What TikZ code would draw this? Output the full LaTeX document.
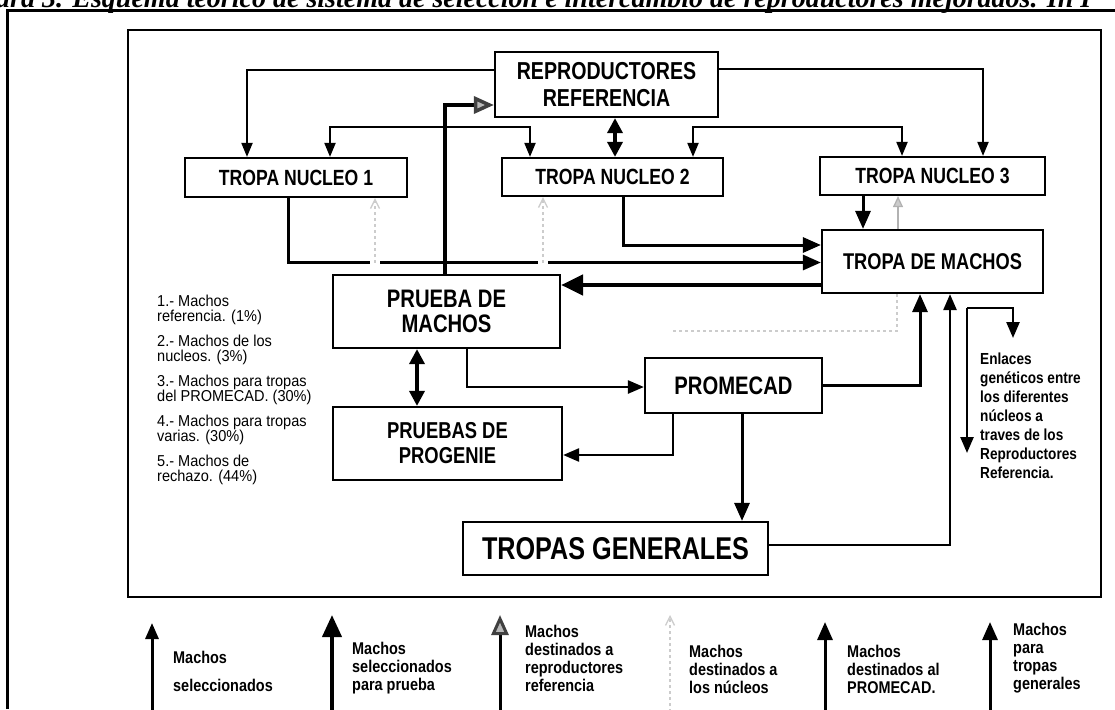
\documentclass[tikz,border=0pt]{standalone}
\usepackage{fontspec}
\setmainfont{Liberation Sans}
\newfontfamily\cf[FakeStretch=0.8]{Liberation Sans}
\newfontfamily\lgf[FakeStretch=0.85]{Liberation Sans}
\newfontfamily\lf[FakeStretch=0.92]{Liberation Sans}
\newfontfamily\tf{Liberation Serif}
\usetikzlibrary{arrows.meta,calc}
\tikzset{
  box/.style={draw, line width=2.2pt, inner sep=0pt, align=center},
  thinar/.style={line width=2pt, -{Triangle[length=14pt,width=11pt]}},
  thinbi/.style={line width=2pt, {Triangle[length=14pt,width=11pt]}-{Triangle[length=14pt,width=11pt]}},
  medar/.style={line width=3pt, -{Triangle[length=18pt,width=15pt]}},
  medthin/.style={line width=2.5pt, -{Triangle[length=16pt,width=13pt]}},
  bigar/.style={line width=4.5pt, -{Triangle[length=22pt,width=20pt]}},
  dblar/.style={line width=3.5pt, {Triangle[length=15pt,width=15pt]}-{Triangle[length=15pt,width=15pt]}},
  grayar/.style={line width=3.5pt, -{Triangle[length=20pt,width=17pt,fill=gray!55,color=black!75]}},
  faintar/.style={draw=gray!40, dashed, line width=1.3pt, -{Straight Barb[length=9pt,width=9pt]}},
  faintline/.style={draw=gray!40, dashed, line width=1.5pt},
  legtxt/.style={anchor=north west, inner sep=0pt, align=left, font=\lgf\bfseries\fontsize{17}{18}\selectfont},
}
\begin{document}
\begin{tikzpicture}[x=1pt,y=-1pt]
\useasboundingbox (0,0) rectangle (1115,709);
\clip (0,0) rectangle (1115,709);
% caption (cut off at the top)
\node[anchor=base west, inner sep=0pt, font=\tf\bfseries\itshape\fontsize{28}{28}\selectfont] (title) at (-4,8) {dra 3. Esquema teórico de sistema de selección e intercambio de reproductores mejorados. In I};
% frames
\draw[line width=3pt] (7,709) -- (7,10.5) -- (1115,10.5);
\draw[line width=1.3pt] (128,30) rectangle (1101,597);

% nodes
\node[box, minimum width=223pt, minimum height=65pt, font=\cf\bfseries\fontsize{24.5}{27}\selectfont] (R) at (606.5,84.5) {REPRODUCTORES\\REFERENCIA};
\node[box, minimum width=222pt, minimum height=39pt, font=\cf\bfseries\fontsize{22}{24}\selectfont] (N1) at (296,177.5) {TROPA NUCLEO 1};
\node[box, minimum width=221pt, minimum height=38pt, font=\cf\bfseries\fontsize{22}{24}\selectfont] (N2) at (612.5,177) {TROPA NUCLEO 2};
\node[box, minimum width=225pt, minimum height=38pt, font=\cf\bfseries\fontsize{22}{24}\selectfont] (N3) at (932.5,176) {TROPA NUCLEO 3};
\node[box, minimum width=221pt, minimum height=63pt, font=\cf\bfseries\fontsize{22.8}{25}\selectfont] (TDM) at (932.5,261.5) {TROPA DE MACHOS};
\node[box, minimum width=227pt, minimum height=73pt, font=\cf\bfseries\fontsize{25.3}{25}\selectfont] (PM) at (446.5,311.5) {PRUEBA DE\\MACHOS};
\node[box, minimum width=177pt, minimum height=55pt, font=\cf\bfseries\fontsize{25.3}{25}\selectfont] (PC) at (733.5,385.5) {PROMECAD};
\node[box, minimum width=229pt, minimum height=73pt, font=\cf\bfseries\fontsize{23}{25}\selectfont] (PP) at (447.5,443.5) {PRUEBAS DE\\PROGENIE};
\node[box, minimum width=305pt, minimum height=53pt, font=\cf\bfseries\fontsize{31.5}{30}\selectfont] (TG) at (615.5,548.5) {TROPAS GENERALES};

% connectors from REPRODUCTORES REFERENCIA
\draw[thinar] ([yshift=15pt]R.west) -| ([xshift=-49pt]N1.north);
\draw[thinar] ([yshift=16pt]R.east) -| ([xshift=50.5pt]N3.north);
\draw[dblar] ([xshift=8.5pt]R.south) -- ([xshift=8.5pt]R.south |- N2.north);
\draw[thinbi] ([xshift=34pt]N1.north) -- ++(0,-30) -| ([xshift=-82.5pt]N2.north);
\draw[thinbi] ([xshift=80.5pt]N2.north) -- ++(0,-30) -| ([xshift=-30.5pt]N3.north);

% nuclei to tropa de machos
\draw[medar] ([xshift=-8pt]N1.south) |- ([yshift=-1pt]TDM.west);
\draw[medar] ([xshift=10.5pt]N2.south) |- ([yshift=16.5pt]TDM.west);
\draw[medar] ([xshift=-69.5pt]N3.south) -- ([xshift=-69.5pt]N3.south |- TDM.north);
\draw[bigar] ([yshift=-23.5pt]TDM.west) -- ([yshift=-23.5pt]TDM.west -| PM.east);

% gaps and faint arrows to the nuclei
\coordinate (g1) at (375,262.5);
\coordinate (g2) at (543,262.5);
\fill[white] (370,256) rectangle (380,269);
\fill[white] (538,256) rectangle (548,269);
\draw[faintar] (g1) -- (g1 |- N1.south);
\draw[faintar] (g2) -- (g2 |- N2.south);
\draw[line width=1.3pt, draw=gray!60, -{Triangle[open, length=11pt,width=10pt, fill=gray!40]}] ([xshift=-34.5pt]TDM.north) -- ([xshift=-34.5pt]TDM.north |- N3.south);
\coordinate (f0) at (673,331);
\draw[faintline] ([xshift=-35.5pt]TDM.south) |- (f0);

% gray arrow to REPRODUCTORES REFERENCIA
\draw[grayar] ([xshift=-1.5pt]PM.north) |- ([yshift=-20.5pt]R.west);

% lower part
\draw[dblar] ([xshift=-29.5pt]PM.south) -- ([xshift=-29.5pt]PM.south |- PP.north);
\draw[medthin] ([xshift=20.5pt]PM.south) |- ([yshift=-1.5pt]PC.west);
\draw[medthin] ([xshift=-60.5pt]PC.south) |- ([yshift=-11.5pt]PP.east);
\draw[medar] (PC.east) -| ([xshift=-12.5pt]TDM.south);
\draw[medar] ([xshift=8.5pt]PC.south) -- ([xshift=8.5pt]PC.south |- TG.north);
\draw[medthin] ([yshift=3.5pt]TG.east) -| ([xshift=17.5pt]TDM.south);

% genetic links bracket
\coordinate (e0) at (967,308);
\coordinate (e1) at (1013,338);
\coordinate (e2) at (967,453);
\draw[medthin] (e0) -| (e1);
\draw[medthin] (e0) -- (e2);
\node[anchor=north west, inner sep=0pt, align=left, font=\lgf\bfseries\fontsize{16}{19}\selectfont] (enl) at (980,353) {Enlaces\\genéticos entre\\los diferentes\\núcleos a\\traves de los\\Reproductores\\Referencia.};

% left legend
\node[anchor=north west, inner sep=0pt, align=left, font=\lf\fontsize{15.8}{15}\selectfont] (leg) at (157,295) {1.- Machos\\referencia. (1\%)\\[10pt]2.- Machos de los\\nucleos. (3\%)\\[10pt]3.- Machos para tropas\\del PROMECAD. (30\%)\\[10pt]4.- Machos para tropas\\varias. (30\%)\\[10pt]5.- Machos de\\rechazo. (44\%)};

% bottom legend
\coordinate (l1a) at (152,712); \coordinate (l1b) at (152,623);
\coordinate (l2a) at (332,712); \coordinate (l2b) at (332,615);
\coordinate (l3a) at (500,712); \coordinate (l3b) at (500,615);
\coordinate (l4a) at (670,712); \coordinate (l4b) at (670,615);
\coordinate (l5a) at (825,712); \coordinate (l5b) at (825,622);
\coordinate (l6a) at (990,712); \coordinate (l6b) at (990,622);
\draw[line width=3pt, -{Triangle[length=16pt,width=13pt]}] (l1a) -- (l1b);
\draw[line width=4pt, -{Triangle[length=22pt,width=19pt]}] (l2a) -- (l2b);
\draw[line width=3pt, -{Triangle[length=20pt,width=17pt,fill=gray!55,color=black!75]}] (l3a) -- (l3b);
\draw[faintar] (l4a) -- (l4b);
\draw[line width=3pt, -{Triangle[length=18pt,width=15pt]}] (l5a) -- (l5b);
\draw[line width=3pt, -{Triangle[length=18pt,width=15pt]}] (l6a) -- (l6b);
\node[legtxt] (t1) at (173,651) {Machos\\[10pt]seleccionados};
\node[legtxt] (t2) at (352,642) {Machos\\seleccionados\\para prueba};
\node[legtxt] (t3) at (525,625) {Machos\\destinados a\\reproductores\\referencia};
\node[legtxt] (t4) at (689,645) {Machos\\destinados a\\los núcleos};
\node[legtxt] (t5) at (847,645) {Machos\\destinados al\\PROMECAD.};
\node[legtxt] (t6) at (1013,623) {Machos\\para\\tropas\\generales};
\end{tikzpicture}
\end{document}
